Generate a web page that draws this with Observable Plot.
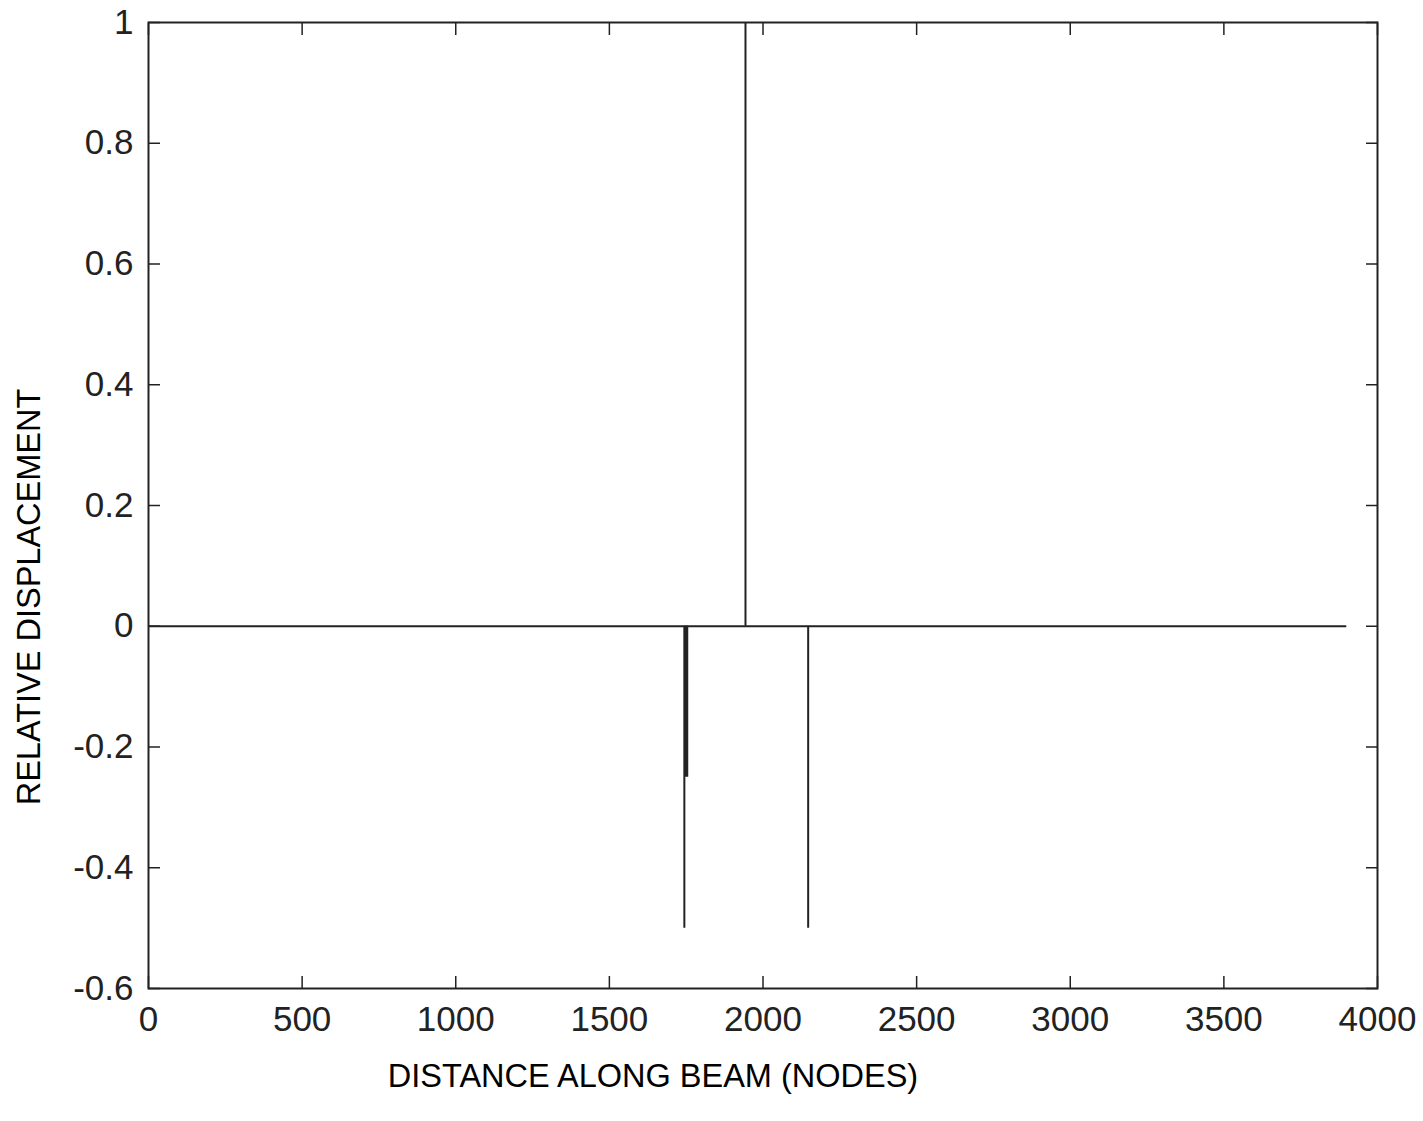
<!DOCTYPE html>
<html>
<head>
<meta charset="utf-8">
<script src="https://cdn.jsdelivr.net/npm/d3@7"></script>
<script src="https://cdn.jsdelivr.net/npm/@observablehq/plot@0.6"></script>
<style>
  html, body { margin: 0; padding: 0; background: #fff; }
  #chart svg { display: block; }
</style>
</head>
<body>
<div id="chart"></div>
<script>
// Data
const xTicks = [0, 500, 1000, 1500, 2000, 2500, 3000, 3500, 4000];
const yTicks = [-0.6, -0.4, -0.2, 0, 0.2, 0.4, 0.6, 0.8, 1];
const baselineStart = 0;
const baselineEnd = 3900;
const spikeNodes = [1744, 1751, 1943, 2147];
const spikeValues = [-0.5, -0.25, 1, -0.5];
const spikeWidths = [2, 3.5, 2, 2];

const spikes = spikeNodes.map((x, i) => ({x, y: spikeValues[i], w: spikeWidths[i]}));
const ink = "#222";
const tickFont = "Liberation Sans, Arial, sans-serif";

const chart = Plot.plot({
  width: 1423,
  height: 1121,
  marginLeft: 148,
  marginRight: 46,
  marginTop: 22,
  marginBottom: 133,
  style: {fontFamily: tickFont, color: ink, background: "#fff"},
  x: {domain: [0, 4000]},
  y: {domain: [-0.6, 1]},
  marks: [
    Plot.ruleY([0], {x1: baselineStart, x2: baselineEnd, stroke: ink, strokeWidth: 2}),
    Plot.ruleX(spikes, {x: "x", y1: 0, y2: "y", stroke: ink, strokeWidth: "w"}),
    Plot.frame({stroke: ink, strokeWidth: 2}),
    // inward ticks on all four sides
    Plot.axisX({ticks: xTicks, anchor: "bottom", tickSize: -12, text: null, label: null, stroke: ink, strokeWidth: 1.5}),
    Plot.axisX({ticks: xTicks, anchor: "top", tickSize: -12, text: null, label: null, stroke: ink, strokeWidth: 1.5}),
    Plot.axisY({ticks: yTicks, anchor: "left", tickSize: -12, text: null, label: null, stroke: ink, strokeWidth: 1.5}),
    Plot.axisY({ticks: yTicks, anchor: "right", tickSize: -12, text: null, label: null, stroke: ink, strokeWidth: 1.5}),
    // tick labels
    Plot.axisX({ticks: xTicks, anchor: "bottom", tickSize: 0, tickPadding: 18, fontSize: 35, tickFormat: d => String(d), label: null, fill: ink}),
    Plot.axisY({ticks: yTicks, anchor: "left", tickSize: 0, tickPadding: 15, fontSize: 35, tickFormat: d => String(d).replace("\u2212", "-"), label: null, fill: ink}),
  ]
});

const wrap = document.getElementById("chart");
wrap.style.position = "relative";
wrap.style.width = "1423px";
wrap.style.height = "1121px";
wrap.appendChild(chart);

const svg = d3.select(chart);
svg.append("text")
  .attr("x", 653).attr("y", 1087)
  .attr("text-anchor", "middle")
  .attr("font-family", "Liberation Sans, Arial, sans-serif")
  .attr("font-size", 32.5)
  .attr("fill", "#000")
  .text("DISTANCE ALONG BEAM (NODES)");
svg.append("text")
  .attr("transform", "translate(40,597) rotate(-90)")
  .attr("text-anchor", "middle")
  .attr("font-family", "Liberation Sans, Arial, sans-serif")
  .attr("font-size", 32.5)
  .attr("fill", "#000")
  .text("RELATIVE DISPLACEMENT");
</script>
</body>
</html>
